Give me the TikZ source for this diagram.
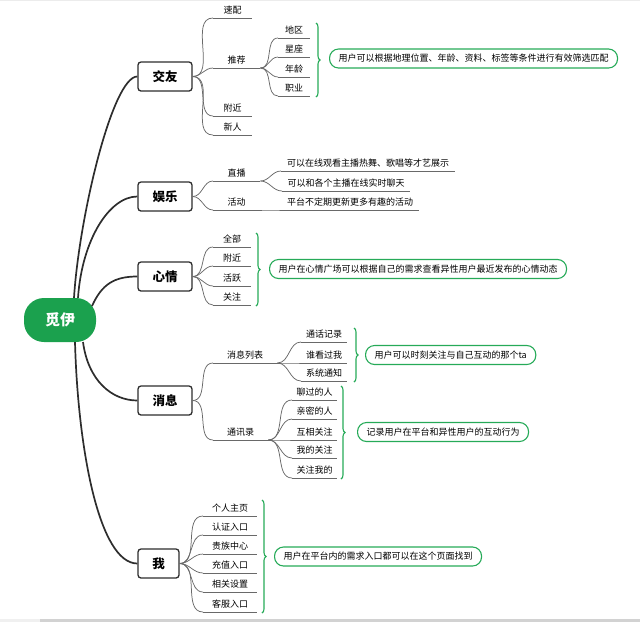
\documentclass[tikz,border=0pt]{standalone}
\usepackage{fontspec}
\setmainfont{Noto Sans CJK SC}
\usetikzlibrary{decorations.pathreplacing}
\definecolor{rootgreen}{RGB}{27,161,78}
\definecolor{notegreen}{RGB}{38,170,88}
\definecolor{trunkgray}{RGB}{45,45,45}
\definecolor{twiggray}{RGB}{105,105,105}
\begin{document}
\begin{tikzpicture}[x=1pt,y=-1pt,
  root/.style={fill=rootgreen, text=white, rounded corners=20pt, minimum width=72pt, minimum height=44pt, font=\fontsize{15}{16}\selectfont\bfseries},
  topic/.style={draw=trunkgray, line width=1.3pt, fill=white, rounded corners=3pt, minimum width=54pt, minimum height=29pt, font=\fontsize{12.5}{14}\selectfont\bfseries},
  trunk/.style={draw=trunkgray, line width=1.7pt},
  twig/.style={draw=twiggray, line width=0.75pt, every edge/.style={draw, out=0, in=180}},
  leaf/.style={anchor=south west, inner xsep=0pt, inner ysep=3pt, text height=7pt, text depth=1pt, minimum width=#1, font=\fontsize{9}{10}\selectfont, append after command={(\tikzlastnode.south west) edge[draw=twiggray, line width=0.75pt] (\tikzlastnode.south east)}},
  leaf/.default=39pt,
  note/.style={draw=notegreen, line width=1.1pt, rounded corners=9pt, minimum height=19pt, inner xsep=9pt, inner ysep=0pt, anchor=west, font=\fontsize{9}{10}\selectfont},
  brace/.style={draw=notegreen, line width=1.1pt, decorate, decoration={brace, amplitude=4pt}}
]
\useasboundingbox (0,0) rectangle (640,622);
\fill[gray!15] (0,0) rectangle (640,1);
\fill[gray!12] (0,619) rectangle (40,622);
\fill[gray!35] (40,619) rectangle (640,622);

\node[root] (mi) at (60,320) {觅伊};
\node[topic] (jy) at (165,76.5) {交友};
\node[topic] (yl) at (165,196.5) {娱乐};
\node[topic] (xq) at (165,276.5) {心情};
\node[topic] (xx) at (165,400.5) {消息};
\node[topic, minimum width=41pt] (wo) at (158.5,563.5) {我};

\node[leaf] (sp) at (213,18) {速配};
\node[leaf=47pt] (tj) at (213,68) {推荐};
\node[leaf] (fj) at (213,116) {附近};
\node[leaf] (xr) at (213,135) {新人};
\node[leaf=32pt] (dq) at (278,38) {地区};
\node[leaf=32pt] (xz) at (278,57) {星座};
\node[leaf=32pt] (nl) at (278,77) {年龄};
\node[leaf=32pt] (zy) at (278,96) {职业};
\draw[brace] (316,23) -- (316,97);
\node[note] (n1) at (329,58.5) {用户可以根据地理位置、年龄、资料、标签等条件进行有效筛选匹配};

\node[leaf=47pt] (zb) at (213,181) {直播};
\node[leaf=47pt] (hd) at (213,210) {活动};
\node[leaf=174pt] (zb1) at (281,171) {可以在线观看主播热舞、歌唱等才艺展示};
\node[leaf=128pt] (zb2) at (282,191) {可以和各个主播在线实时聊天};
\node[leaf=138pt] (hd1) at (281,210) {平台不定期更新更多有趣的活动};

\node[leaf=38pt] (qb) at (213,247) {全部};
\node[leaf=38pt] (fj2) at (213,266) {附近};
\node[leaf=38pt] (hy) at (213,286) {活跃};
\node[leaf=38pt] (gz) at (213,305) {关注};
\draw[brace] (256,233) -- (256,306);
\node[note] (n2) at (269,269) {用户在心情广场可以根据自己的需求查看异性用户最近发布的心情动态};

\node[leaf=64pt] (xxlb) at (213,363) {消息列表};
\node[leaf=55pt] (txl) at (213,440) {通讯录};
\node[leaf=46pt] (thjl) at (301,342) {通话记录};
\node[leaf=46pt] (skgw) at (301,363) {谁看过我};
\node[leaf=46pt] (xttz) at (301,381) {系统通知};
\draw[brace] (354,328) -- (354,382);
\node[note] (n3) at (365,355) {用户可以时刻关注与自己互动的那个ta};
\node[leaf=45pt] (lgdr) at (292,400) {聊过的人};
\node[leaf=45pt] (qmdr) at (292,419) {亲密的人};
\node[leaf=45pt] (hxgz) at (292,440) {互相关注};
\node[leaf=45pt] (wdgz) at (292,458) {我的关注};
\node[leaf=45pt] (gzwd) at (292,478) {关注我的};
\draw[brace] (341,386) -- (341,479);
\node[note] (n4) at (357,432) {记录用户在平台和异性用户的互动行为};

\node[leaf=54pt] (grzy) at (203,516) {个人主页};
\node[leaf=54pt] (rzrk) at (203,535) {认证入口};
\node[leaf=54pt] (gzzx) at (203,554) {贵族中心};
\node[leaf=54pt] (czrk) at (203,573) {充值入口};
\node[leaf=54pt] (xgsz) at (203,592) {相关设置};
\node[leaf=54pt] (kfrk) at (203,612) {客服入口};
\draw[brace] (262,500) -- (262,613);
\node[note] (n5) at (274,556.5) {用户在平台内的需求入口都可以在这个页面找到};

\draw[trunk] ([xshift=14pt]mi.north) .. controls +(5,-80) and +(-25,0) .. (jy.west);
\draw[trunk] ([xshift=18pt]mi.north) .. controls +(4,-58) and +(-28,0) .. (yl.west);
\draw[trunk] ([shift={(32,-14)}]mi.center) .. controls +(10,-22) and +(-23,0) .. (xq.west);
\draw[trunk] ([shift={(23,22)}]mi.center) .. controls +(5,38) and +(-26,0) .. (xx.west);
\draw[trunk] ([xshift=15pt]mi.south) .. controls +(3,108) and +(-38,0) .. (wo.west);

\draw[twig] (jy.east) edge (sp.south west) edge (tj.south west) edge (fj.south west) edge (xr.south west);
\draw[twig] (tj.south east) edge (dq.south west) edge (xz.south west) edge (nl.south west) edge (zy.south west);
\draw[twig] (yl.east) edge (zb.south west) edge (hd.south west);
\draw[twig] (zb.south east) edge (zb1.south west) edge (zb2.south west);
\draw[twig] (hd.south east) edge (hd1.south west);
\draw[twig] (xq.east) edge (qb.south west) edge (fj2.south west) edge (hy.south west) edge (gz.south west);
\draw[twig] (xx.east) edge (xxlb.south west) edge (txl.south west);
\draw[twig] (xxlb.south east) edge (thjl.south west) edge (skgw.south west) edge (xttz.south west);
\draw[twig] (txl.south east) edge (lgdr.south west) edge (qmdr.south west) edge (hxgz.south west) edge (wdgz.south west) edge (gzwd.south west);
\draw[twig] (wo.east) edge (grzy.south west) edge (rzrk.south west) edge (gzzx.south west) edge (czrk.south west) edge (xgsz.south west) edge (kfrk.south west);
\end{tikzpicture}
\end{document}
